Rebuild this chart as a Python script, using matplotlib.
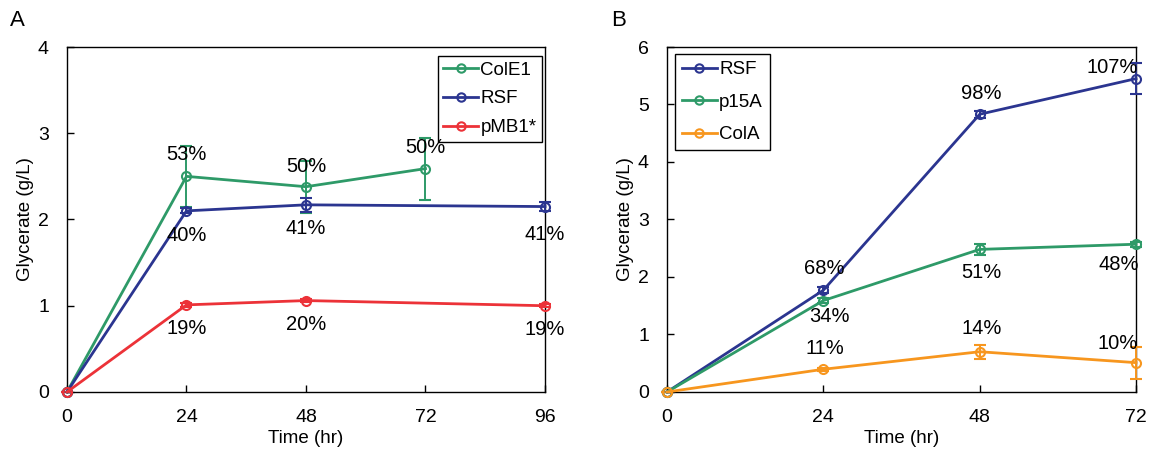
import matplotlib.pyplot as plt
from matplotlib.lines import Line2D

plt.rcParams['font.family'] = ['Liberation Sans', 'DejaVu Sans']
plt.rcParams['font.size'] = 14

GREEN = "#2e9a68"
BLUE = "#2b3590"
RED = "#ec3238"
ORANGE = "#f7961e"

# panel A
time_a = [0, 24, 48, 72, 96]
cole1_t = [0, 24, 48, 72]
cole1 = [0, 2.50, 2.38, 2.59]
cole1_err = [0, 0.35, 0.30, 0.36]
rsf_a_t = [0, 24, 48, 96]
rsf_a = [0, 2.10, 2.17, 2.15]
rsf_a_err = [0, 0.03, 0.08, 0.05]
pmb1_t = [0, 24, 48, 96]
pmb1 = [0, 1.01, 1.06, 1.00]
pmb1_err = [0, 0.02, 0.02, 0.02]

cole1_lab = [(24, 2.75, "53%"), (48, 2.62, "50%"), (72, 2.84, "50%")]
rsf_a_lab = [(24, 1.82, "40%"), (48, 1.90, "41%"), (96, 1.83, "41%")]
pmb1_lab = [(24, 0.74, "19%"), (48, 0.785, "20%"), (96, 0.72, "19%")]

# panel B
time_b = [0, 24, 48, 72]
rsf_b = [0, 1.77, 4.83, 5.45]
rsf_b_err = [0, 0.05, 0.06, 0.27]
p15a = [0, 1.59, 2.48, 2.57]
p15a_err = [0, 0.04, 0.09, 0.04]
cola = [0, 0.395, 0.70, 0.51]
cola_err = [0, 0.03, 0.12, 0.28]

rsf_b_lab = [(24.2, 2.15, "68%", 'center'), (48.3, 5.19, "98%", 'center'), (72.3, 5.65, "107%", 'right')]
p15a_lab = [(25.0, 1.31, "34%", 'center'), (48.3, 2.07, "51%", 'center'), (72.4, 2.21, "48%", 'right')]
cola_lab = [(24.2, 0.76, "11%", 'center'), (48.3, 1.11, "14%", 'center'), (72.3, 0.85, "10%", 'right')]


def series(ax, x, y, err, color, label):
    ax.errorbar(x, y, yerr=err, color=color, marker='o', mfc='none', mec=color,
                ms=6.5, mew=1.5, lw=2, capsize=4, elinewidth=1.4,
                clip_on=False, zorder=3)
    return Line2D([], [], color=color, marker='o', mfc='none', mec=color,
                  ms=6, mew=1.5, lw=2, label=label)


def style(ax):
    ax.tick_params(direction='in', length=5, width=1, labelsize=14)
    ax.tick_params(axis='x', pad=12)
    ax.tick_params(axis='y', pad=13)
    for s in ax.spines.values():
        s.set_linewidth(1)
    ax.set_xlabel("Time (hr)", fontsize=13.5, labelpad=3)
    ax.set_ylabel("Glycerate (g/L)", fontsize=13.5, labelpad=3)


def legend(ax, handles, anchor, loc, spacing, pad):
    leg = ax.legend(handles=handles, loc=loc, bbox_to_anchor=anchor,
                    fancybox=False, edgecolor='black', handlelength=1.85,
                    borderpad=pad, labelspacing=spacing, handletextpad=0.12,
                    borderaxespad=0, fontsize=13.5, framealpha=1)
    leg.get_frame().set_linewidth(1)
    leg.set_zorder(2)


fig = plt.figure(figsize=(11.51, 4.55), dpi=100)
ax1 = fig.add_axes([0.0582, 0.1385, 0.4153, 0.7582])
ax2 = fig.add_axes([0.5795, 0.1385, 0.4075, 0.7582])

h = [series(ax1, cole1_t, cole1, cole1_err, GREEN, "ColE1"),
     series(ax1, rsf_a_t, rsf_a, rsf_a_err, BLUE, "RSF"),
     series(ax1, pmb1_t, pmb1, pmb1_err, RED, "pMB1*")]
for lab in (cole1_lab, rsf_a_lab, pmb1_lab):
    for x, y, t in lab:
        ax1.text(x, y, t, ha='center', va='center', fontsize=14.5, zorder=5)
ax1.set_xlim(0, 96)
ax1.set_ylim(0, 4)
ax1.set_xticks(time_a)
ax1.set_yticks([0, 1, 2, 3, 4])
style(ax1)
legend(ax1, h, (0.994, 0.974), 'upper right', 0.62, 0.3)

h = [series(ax2, time_b, rsf_b, rsf_b_err, BLUE, "RSF"),
     series(ax2, time_b, p15a, p15a_err, GREEN, "p15A"),
     series(ax2, time_b, cola, cola_err, ORANGE, "ColA")]
for lab in (rsf_b_lab, p15a_lab, cola_lab):
    for x, y, t, ha in lab:
        ax2.text(x, y, t, ha=ha, va='center', fontsize=14.5, zorder=5)
ax2.set_xlim(0, 72)
ax2.set_ylim(0, 6)
ax2.set_xticks(time_b)
ax2.set_yticks([0, 1, 2, 3, 4, 5, 6])
style(ax2)
legend(ax2, h, (0.017, 0.98), 'upper left', 0.82, 0.38)

fig.text(0.009, 0.955, "A", fontsize=16, va='center')
fig.text(0.531, 0.955, "B", fontsize=16, va='center')

fig.savefig("out.png", dpi=100)
